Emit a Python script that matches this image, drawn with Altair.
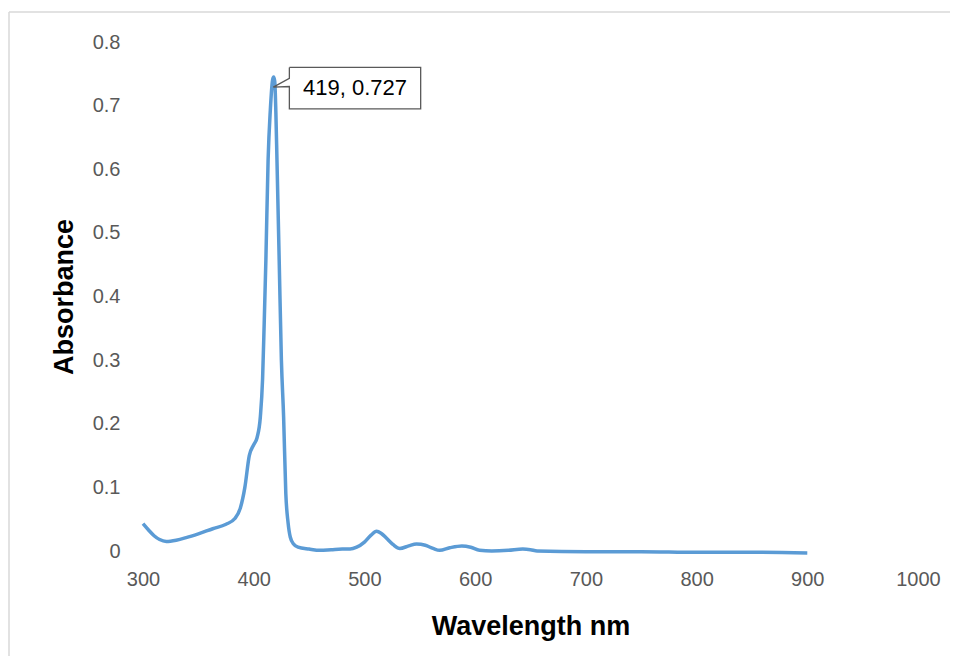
import altair as alt
import pandas as pd

# Spectrum
wavelength = [300, 305, 310, 315, 321, 330, 339, 350, 363, 375, 383, 388, 392, 396,
              400, 403, 406, 408, 409.5, 411, 413, 415, 417, 418, 419, 420, 421, 423,
              425, 427, 429, 431, 433, 436, 440, 450, 460, 470, 480, 487, 493, 500,
              506, 511, 515, 520, 526, 532, 540, 547, 555, 562, 568, 577, 588, 596,
              604, 615, 630, 643, 650, 656, 700, 750, 800, 850, 900]
absorbance = [0.043, 0.033, 0.024, 0.018, 0.015, 0.017, 0.021, 0.027, 0.035, 0.042,
              0.051, 0.068, 0.100, 0.150, 0.167, 0.178, 0.211, 0.270, 0.360, 0.458,
              0.615, 0.693, 0.740, 0.745, 0.738, 0.690, 0.615, 0.458, 0.300, 0.211,
              0.090, 0.045, 0.022, 0.011, 0.006, 0.003, 0.001, 0.002, 0.003, 0.003,
              0.006, 0.014, 0.025, 0.031, 0.028, 0.020, 0.010, 0.004, 0.008, 0.011,
              0.009, 0.004, 0.001, 0.005, 0.008, 0.006, 0.001, 0.000, 0.001, 0.003,
              0.002, 0.000, -0.001, -0.001, -0.002, -0.002, -0.003]

x_ticks = [300, 400, 500, 600, 700, 800, 900, 1000]
y_ticks = [0, 0.1, 0.2, 0.3, 0.4, 0.5, 0.6, 0.7, 0.8]

# Data label callout (in data units)
label_text = "419, 0.727"
label_x = 491.5
label_y = 0.7275
callout_x = [432.2, 550.8, 550.8, 432.2, 432.2, 417.7, 432.2, 432.2]
callout_y = [0.760, 0.760, 0.695, 0.695, 0.730, 0.729, 0.743, 0.760]

FONT = "Liberation Sans"

df = pd.DataFrame({"wl": wavelength, "a": absorbance})
call_df = pd.DataFrame({"x": callout_x, "y": callout_y, "o": list(range(len(callout_x)))})
lab_df = pd.DataFrame({"x": [label_x], "y": [label_y], "t": [label_text]})

xscale = alt.Scale(domain=[300, 1000], nice=False)
yscale = alt.Scale(domain=[0, 0.8], nice=False, zero=False)

line = alt.Chart(df).mark_line(color="#5B9BD5", strokeWidth=3.5, interpolate="monotone").encode(
    x=alt.X("wl:Q", scale=xscale,
            axis=alt.Axis(title="Wavelength nm", values=x_ticks, format="d", grid=False,
                          domain=False, ticks=False, tickSize=0, labelPadding=18,
                          labelFlush=False, labelOverlap=False,
                          labelFontSize=20, labelColor="#595959", labelFont=FONT,
                          titleFont=FONT, titleFontSize=27, titleFontWeight="bold",
                          titleColor="#000000", titleX=387.5, titleY=75,
                          titleBaseline="middle", titleAlign="center")),
    y=alt.Y("a:Q", scale=yscale,
            axis=alt.Axis(title="Absorbance", values=y_ticks, format=".1~f", grid=False,
                          domain=False, ticks=False, tickSize=0, labelPadding=23,
                          labelFlush=False, labelOverlap=False,
                          labelFontSize=20, labelColor="#595959", labelFont=FONT,
                          titleFont=FONT, titleFontSize=27, titleFontWeight="bold",
                          titleColor="#000000", titleX=-79, titleY=254.5,
                          titleBaseline="middle", titleAlign="center", titleAngle=-90)),
)

callout = alt.Chart(call_df).mark_line(color="#595959", strokeWidth=1.3).encode(
    x=alt.X("x:Q", scale=xscale),
    y=alt.Y("y:Q", scale=yscale),
    order="o:Q",
)

text = alt.Chart(lab_df).mark_text(font=FONT, fontSize=22, color="#000000",
                                   align="center", baseline="middle").encode(
    x=alt.X("x:Q", scale=xscale),
    y=alt.Y("y:Q", scale=yscale),
    text="t:N",
)

border_left = alt.Chart(lab_df).mark_rule(color="#d9d9d9", strokeWidth=1.5).encode(
    x=alt.value(-134), y=alt.value(-30), y2=alt.value(640))
border_top = alt.Chart(lab_df).mark_rule(color="#d9d9d9", strokeWidth=1.5).encode(
    x=alt.value(-134), x2=alt.value(830), y=alt.value(-30))

chart = alt.layer(border_left, border_top, line, callout, text).properties(
    width=775, height=509,
    autosize=alt.AutoSizeParams(type="none"),
    padding={"left": 135, "top": 34, "right": 32, "bottom": 105},
).configure_view(stroke=None)

chart.save("out.html", embed_options={"renderer": "svg", "actions": False})
